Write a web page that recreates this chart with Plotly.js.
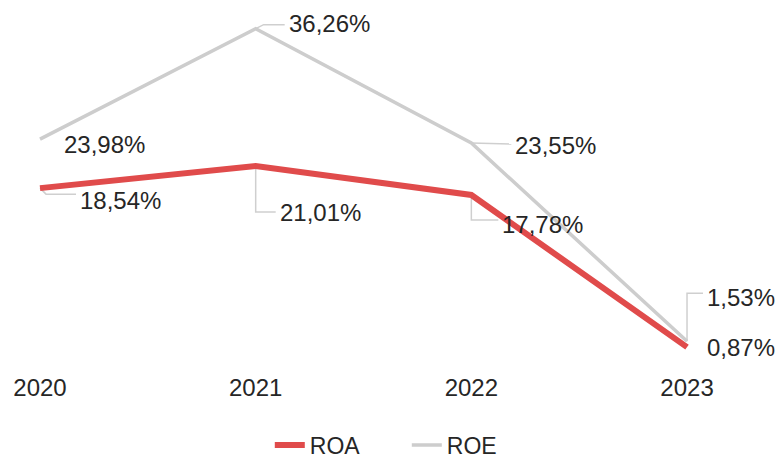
<!DOCTYPE html>
<html>
<head>
<meta charset="utf-8">
<script src="https://cdn.plot.ly/plotly-3.0.1.min.js"></script>
<style>html,body{margin:0;padding:0;background:#fff;}#chart{width:782px;height:459px;}</style>
</head>
<body>
<div id="chart"></div>
<script>
// Data
const years = [2020, 2021, 2022, 2023];
const yearLabels = ["2020", "2021", "2022", "2023"];
const roa = [18.54, 21.01, 17.78, 0.87];
const roe = [23.98, 36.26, 23.55, 1.53];
const roaLabels = ["18,54%", "21,01%", "17,78%", "0,87%"];
const roeLabels = ["23,98%", "36,26%", "23,55%", "1,53%"];

// Label placement (pixel offsets from each point) and leader line paths (pixels, up = positive)
const roaShift = [[38, -12], [22, -47], [29, -30], [18, 0]];
const roeShift = [[22, -5], [31, 5], [42, -2], [18, 44]];
const roaLeaders = ["M0,0 L6,-6 L36,-6", "M0,0 L0,-46 L20,-46", "M0,0 L0,-25 L27,-25", null];
const roeLeaders = [null, "M0,0 L8,4 L29,4", "M0,0 L40,-1", "M0,0 L0,48 L16,48"];

const FONT = "Liberation Sans, Arial, sans-serif";
const TXT = "#262626";

const traces = [
  {x: years, y: roa, name: "ROA", type: "scatter", mode: "lines",
   line: {color: "#e04b4b", width: 6}},
  {x: years, y: roe, name: "ROE", type: "scatter", mode: "lines",
   line: {color: "#cdcdcd", width: 3.5}}
];

const annotations = [];
const shapes = [];
function addLabels(vals, labels, shifts, leaders) {
  vals.forEach((v, i) => {
    annotations.push({x: years[i], y: v, xref: "x", yref: "y", text: labels[i],
      showarrow: false, xanchor: "left", yanchor: "middle",
      xshift: shifts[i][0], yshift: shifts[i][1],
      font: {family: FONT, size: 24, color: TXT}});
    if (leaders[i]) {
      shapes.push({type: "path", xref: "x", yref: "y", xsizemode: "pixel", ysizemode: "pixel",
        xanchor: years[i], yanchor: v, path: leaders[i],
        line: {color: "#cfcfcf", width: 1.5}, layer: "below"});
    }
  });
}
addLabels(roa, roaLabels, roaShift, roaLeaders);
addLabels(roe, roeLabels, roeShift, roeLeaders);

const layout = {
  width: 782, height: 459,
  margin: {l: 0, r: 0, t: 13, b: 104, autoexpand: false},
  paper_bgcolor: "#ffffff", plot_bgcolor: "#ffffff",
  font: {family: FONT, color: TXT},
  xaxis: {type: "linear", range: [2019.8145, 2023.4404], tickvals: years, ticktext: yearLabels,
    showgrid: false, zeroline: false, showline: false, ticks: "",
    ticklabelstandoff: 16, tickfont: {family: FONT, size: 24, color: TXT}},
  yaxis: {range: [0, 38], showgrid: false, zeroline: false, showline: false,
    showticklabels: false, ticks: ""},
  showlegend: true,
  legend: {orientation: "h", x: 0.345, xanchor: "left", y: -0.263, yanchor: "middle",
    font: {family: FONT, size: 23, color: TXT}, entrywidth: 92},
  annotations: annotations,
  shapes: shapes
};

Plotly.newPlot("chart", traces, layout, {displayModeBar: false, staticPlot: true});
</script>
</body>
</html>
